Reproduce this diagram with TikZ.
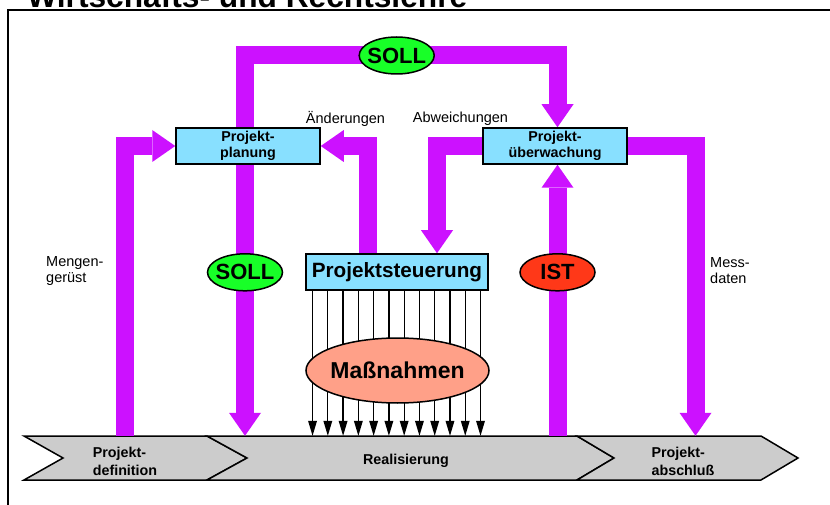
\documentclass[tikz,border=0pt]{standalone}
\usepackage{fontspec}
\setmainfont{Liberation Sans}
\usetikzlibrary{arrows.meta,shapes.geometric,calc}
\pgfdeclarelayer{bg}
\pgfsetlayers{bg,main}
\definecolor{lila}{RGB}{204,17,255}
\definecolor{boxcyan}{RGB}{136,224,255}
\definecolor{sollgreen}{RGB}{24,255,40}
\definecolor{istred}{RGB}{255,56,24}
\definecolor{salmon}{RGB}{255,160,136}
\definecolor{chevgray}{RGB}{204,204,204}
\begin{document}
\begin{tikzpicture}[x=1pt,y=-1pt,
  box/.style={draw=black,line width=1.5pt,fill=boxcyan,inner sep=0pt,minimum width=144pt,minimum height=36pt,align=center,font=\fontsize{14.3}{15.5}\selectfont\bfseries},
  oval/.style={ellipse,draw=black,line width=1.5pt,inner sep=0pt,minimum width=75pt,minimum height=37pt,font=\fontsize{22}{24}\selectfont\bfseries},
  chevtext/.style={inner sep=0pt,minimum height=50pt,align=left,font=\fontsize{14.3}{18}\selectfont\bfseries},
  chev/.style={draw=black,line width=1.5pt,fill=chevgray,line join=miter},
  lbl/.style={inner sep=0pt,font=\fontsize{14.5}{16}\selectfont},
  fat/.style={draw=lila,line width=18pt,line join=miter,-{Triangle[length=23pt,width=32pt,line width=0pt]}},
  thinarrow/.style={draw=black,line width=1.2pt,-{Triangle[length=15pt,width=9pt,line width=0pt]}},
]
\useasboundingbox (0,0) rectangle (830,505);

% title and frame
\node[anchor=base west,inner sep=0pt,font=\fontsize{31.7}{36}\selectfont\bfseries] (title) at (27,8) {Wirtschafts- und Rechtslehre};
\draw[line width=2pt] (8,520) -- (8,10) -- (845,10);

% boxes
\node[box] (plan) at (248,146) {Projekt-\\planung};
\node[box] (ueb) at (555,146) {Projekt-\\überwachung};
\node[box,minimum width=182pt,font=\fontsize{20.7}{22}\selectfont\bfseries] (steu) at (397,272) {Projektsteuerung};

% ellipses
\node[oval,fill=sollgreen] (soll1) at (396.7,55.5) {\makebox[0pt]{SOLL}};
\node[oval,fill=sollgreen] (soll2) at (245,272.3) {\makebox[0pt]{SOLL}};
\node[oval,fill=istred] (ist) at (557.5,272.3) {\makebox[0pt]{IST}};
\node[ellipse,draw=black,line width=1.5pt,fill=salmon,inner sep=0pt,minimum width=183pt,minimum height=65pt,font=\fontsize{23}{25}\selectfont\bfseries] (mass) at (397.5,370.5) {\makebox[0pt]{Maßnahmen}};

% chevron texts
\node[chevtext] (def) at (125,461) {Projekt-\\definition};
\node[chevtext] (real) at (406,461) {Realisierung};
\node[chevtext] (abs) at (683,461) {Projekt-\\abschluß};

% labels
\node[lbl,anchor=west,align=left] (meng) at (46,271) {Mengen-\\gerüst};
\node[lbl,anchor=west,align=left] (messd) at (710,271) {Mess-\\daten};
\node[lbl] (aenl) at (345.5,119) {Änderungen};
\node[lbl] (abwl) at (460.5,119) {Abweichungen};

\coordinate (aend) at (367.5,148);
\coordinate (abw) at (437,148);
\coordinate (mess) at (695.5,148);

\begin{pgfonlayer}{bg}
  % chevrons
  \draw[chev] (24,436) -- (207,436) -- (247,458) -- (207,480) -- (24,480) -- (63,458) -- cycle;
  \draw[chev] (207,436) -- (577,436) -- (614,458) -- (577,480) -- (207,480) -- (247,458) -- cycle;
  \draw[chev] (577,436) -- (761,436) -- (798,458) -- (761,480) -- (577,480) -- (614,458) -- cycle;
  % purple connectors
  \draw[fat] (plan.north -| soll2) |- (soll1.center) -| (ueb.north -| ist);
  \draw[fat] (plan.south -| soll2) -- (real.north -| soll2);
  \draw[fat] (def.north) |- (plan.west);
  \draw[fat] (steu.north -| aend) |- (plan.east);
  \draw[fat] (ueb.west) -| (steu.north -| abw);
  \draw[fat] (real.north -| ist) -- (ueb.south -| ist);
  \draw[fat] (ueb.east) -| (abs.north -| mess);
  % thin arrows
  \foreach \i in {0,...,11} {
    \path (steu.south west) ++({7.3+15.27*\i},0) coordinate (t\i);
    \draw[thinarrow] (t\i) -- (t\i |- real.north);
  }
\end{pgfonlayer}
\end{tikzpicture}
\end{document}
